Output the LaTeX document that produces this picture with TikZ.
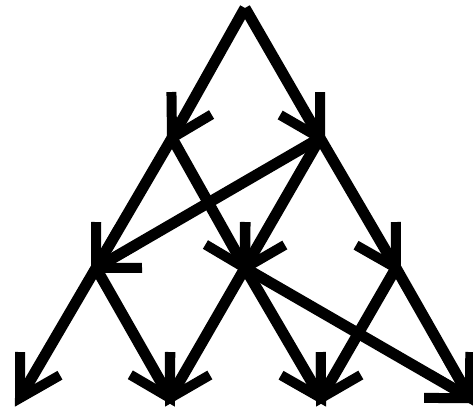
\documentclass[tikz,border=0pt]{standalone}
\usetikzlibrary{calc}
\tikzset{edge/.style={line width=11pt,line cap=butt,black},
  barb/.style={line width=10pt,line cap=butt,line join=miter,black}}
\newcommand{\arrowab}[2]{%
  \draw[edge] (#1) -- (#2);
  \draw[barb] ($(#2)!46pt!30:(#1)$) -- (#2) -- ($(#2)!46pt!-30:(#1)$);}
\begin{document}
\begin{tikzpicture}[x=1pt,y=-1pt]
\useasboundingbox (0,0) rectangle (473,410);
\coordinate (t) at (245,8);
\coordinate (a1) at (172,138);
\coordinate (a2) at (320,138);
\coordinate (b1) at (96,268);
\coordinate (b2) at (245,268);
\coordinate (b3) at (396,268);
\coordinate (c1) at (20,398);
\coordinate (c2) at (170,398);
\coordinate (c3) at (321,398);
\coordinate (c4) at (470,398);
\arrowab{t}{a1}
\arrowab{t}{a2}
\arrowab{a1}{b1}
\arrowab{a1}{b2}
\arrowab{a2}{b1}
\arrowab{a2}{b2}
\arrowab{a2}{b3}
\arrowab{b1}{c1}
\arrowab{b1}{c2}
\arrowab{b2}{c2}
\arrowab{b2}{c3}
\arrowab{b2}{c4}
\arrowab{b3}{c3}
\arrowab{b3}{c4}
\end{tikzpicture}
\end{document}
